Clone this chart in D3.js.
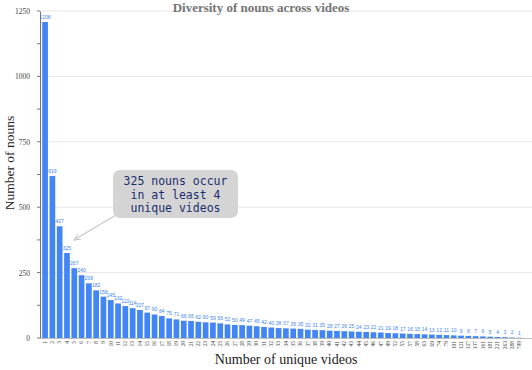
<!DOCTYPE html>
<html><head><meta charset="utf-8">
<script src="https://cdn.jsdelivr.net/npm/d3@7"></script>
<style>body{margin:0;background:#fff}svg{display:block}</style>
</head><body><svg id="c" width="532" height="370"></svg>
<script>
const categories = ["1","2","3","4","5","6","7","8","9","10","11","12","13","14","15","16","17","18","19","20","21","22","23","24","25","26","27","28","29","30","31","32","33","34","35","36","37","38","39","40","41","42","43","44","45","46","47","49","52","55","57","58","63","69","74","79","101","121","127","137","161","181","221","263","288","799"];
const values = [1208,619,427,325,267,240,209,182,158,145,132,122,114,107,97,90,84,75,71,66,65,62,60,59,56,52,50,49,47,45,42,40,38,37,36,35,32,31,30,28,27,26,25,24,23,22,21,19,18,17,16,15,14,13,12,11,10,9,8,7,6,5,4,3,2,1];
const yTicks = [0,250,500,750,1000,1250];
const yMinor = [125,375,625,875,1125];
const title = "Diversity of nouns across videos";
const xTitle = "Number of unique videos";
const yTitle = "Number of nouns";
const noteLines = ["325 nouns occur","in at least 4","unique videos"];
const noteIndex = 3;

const svg = d3.select("#c");
const serif = "'Liberation Serif', 'DejaVu Serif', serif";
const x = d3.scaleBand().domain(categories).range([41.5, 523]).paddingInner(0.22).paddingOuter(0.1);
const y = d3.scaleLinear().domain([0,1250]).range([338, 11]);

// gridlines
svg.append("g").selectAll("line").data(yTicks.slice(1)).join("line")
  .attr("x1", 40).attr("x2", 532).attr("y1", d=>y(d)).attr("y2", d=>y(d))
  .attr("stroke", "#e6e6e6").attr("stroke-width", 1);

// bars
svg.append("g").selectAll("rect").data(values).join("rect")
  .attr("x", (d,i)=>x(categories[i])).attr("width", x.bandwidth())
  .attr("y", d=>y(d)).attr("height", d=>y(0)-y(d))
  .attr("fill", "#4285f4");

// value labels
svg.append("g").selectAll("text").data(values).join("text")
  .attr("x", (d,i)=>x(categories[i]) + x.bandwidth()/2)
  .attr("y", d=>y(d)-3)
  .attr("text-anchor", "middle")
  .attr("font-family", "'Liberation Sans', Arial, sans-serif")
  .attr("font-size", 5).attr("fill", "#4285f4")
  .text(d=>d);

// y axis
const yAxis = d3.axisLeft(y).tickValues(yTicks).tickFormat(d3.format("d")).tickSize(0).tickPadding(10);
const gy = svg.append("g").attr("transform", "translate(40,0)").call(yAxis);
gy.select(".domain").attr("stroke", "#757575");
gy.selectAll("text").attr("font-family", serif).attr("font-size", 7.5).attr("fill", "#444");
svg.append("g").selectAll("line").data(yTicks.concat(yMinor)).join("line")
  .attr("x1", 37).attr("x2", 40).attr("y1", d=>y(d)).attr("y2", d=>y(d))
  .attr("stroke", "#757575");

// x axis
const xAxis = d3.axisBottom(x).tickSize(0).tickPadding(3);
const gx = svg.append("g").attr("transform", "translate(0,338)").call(xAxis);
gx.select(".domain").attr("stroke", "#bdbdbd").attr("d", "M40,0.5H532");
gx.selectAll("text")
  .attr("font-family", serif).attr("font-size", 5.5).attr("fill", "#444")
  .attr("transform", "rotate(-90)")
  .attr("text-anchor", "end").attr("x", -3).attr("y", 0).attr("dy", "0.32em");

// titles
svg.append("text").attr("x", 261).attr("y", 11.5).attr("text-anchor", "middle")
  .attr("font-family", serif).attr("font-weight", "bold").attr("font-size", 13)
  .attr("fill", "#757575").text(title);
svg.append("text").attr("x", 286).attr("y", 364).attr("text-anchor", "middle")
  .attr("font-family", serif).attr("font-size", 14).attr("fill", "#222").text(xTitle);
svg.append("text").attr("transform", "translate(14,163) rotate(-90)").attr("text-anchor", "middle")
  .attr("font-family", serif).attr("font-size", 13.5).attr("fill", "#222").text(yTitle);

// annotation
const bx = x(categories[noteIndex]) + x.bandwidth()/2 + 7;
const by = y(values[noteIndex]) - 13;
svg.append("defs").append("marker").attr("id","ah").attr("viewBox","0 0 10 10")
  .attr("refX",9).attr("refY",5).attr("markerWidth",6).attr("markerHeight",6).attr("orient","auto")
  .append("path").attr("d","M0,1L9,5L0,9").attr("fill","none").attr("stroke","#c8c8c8").attr("stroke-width",1.5);
svg.append("line").attr("x1", 116).attr("y1", 215).attr("x2", bx).attr("y2", by)
  .attr("stroke", "#c8c8c8").attr("stroke-width", 1.2).attr("marker-end", "url(#ah)");
svg.append("rect").attr("x", 113).attr("y", 170).attr("width", 125).attr("height", 48).attr("rx", 7)
  .attr("fill", "#d4d4d4");
svg.append("g").selectAll("text").data(noteLines).join("text")
  .attr("x", 175.5).attr("y", (d,i)=>185 + i*13.5).attr("text-anchor", "middle")
  .attr("font-family", "'DejaVu Sans Mono', monospace").attr("font-size", 11.5)
  .attr("fill", "#1c2c6e").text(d=>d);
</script></body></html>
